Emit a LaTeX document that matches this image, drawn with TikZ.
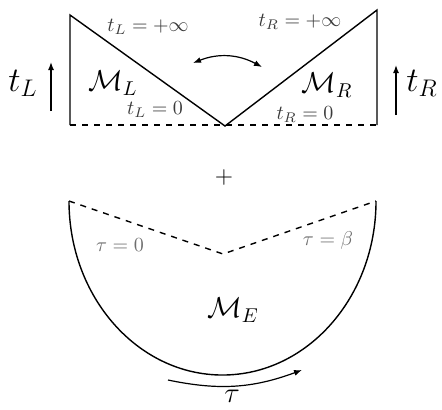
\documentclass[tikz,border=0pt]{standalone}
\usepackage{tikz}
\usetikzlibrary{arrows.meta,positioning}
\definecolor{sheetInk}{HTML}{000000}
\definecolor{tagInk}{HTML}{3A3A3A}
\definecolor{tauInk}{HTML}{6E6E6E}
\tikzset{
  every picture/.style={text=sheetInk},
  sheet edge/.style={draw=sheetInk, line width=0.7pt, line join=miter},
  cut edge/.style={draw=sheetInk, line width=0.7pt, dashed},
  time arrow/.style={-{Latex[length=4pt,width=3pt]}, draw=sheetInk, line width=0.7pt},
  swap arrow/.style={{Latex[length=4pt,width=3pt]}-{Latex[length=4pt,width=3pt]},
    draw=sheetInk, line width=0.6pt},
  edge tag/.style={text=tagInk, inner sep=1pt},
  tau tag/.style={text=tauInk, inner sep=1pt},
  sheet name/.style={font=\Large},
  time name/.style={font=\LARGE}
}
\begin{document}
\begin{tikzpicture}[x=0.5pt,y=0.5pt]
  \useasboundingbox (0,0) rectangle (442,-409);
  % Lorentzian sheets
  \coordinate (LB) at (70,-125);
  \coordinate (LT) at (70,-15);
  \coordinate (V) at (225,-126);
  \coordinate (RT) at (377,-10);
  \coordinate (RB) at (377,-125);
  \draw[sheet edge] (LB) -- (LT) -- (V) -- (RT) -- (RB);
  \draw[cut edge] (LB) -- (RB);
  \node[edge tag] (tLinf) at (148,-27) {$t_L=+\infty$};
  \node[edge tag] (tRinf) at (300,-22) {$t_R=+\infty$};
  \node[edge tag] (tLz) at (155,-110) {$t_L=0$};
  \node[edge tag] (tRz) at (305,-115) {$t_R=0$};
  \node[sheet name] (ML) at (113,-83) {$\mathcal{M}_L$};
  \node[sheet name] (MR) at (327,-85) {$\mathcal{M}_R$};
  \node[time name] (tL) at (23,-83) {$t_L$};
  \node[time name] (tR) at (422,-83) {$t_R$};
  \coordinate (tLa) at (51,-111);
  \coordinate (tLb) at (51,-62);
  \coordinate (tRa) at (396,-115);
  \coordinate (tRb) at (396,-65);
  \draw[time arrow] (tLa) -- (tLb);
  \draw[time arrow] (tRa) -- (tRb);
  \coordinate (swL) at (193,-63);
  \coordinate (swR) at (262,-67);
  \draw[swap arrow] (swL) to[bend left=25] (swR);
  \node[font=\large] (plus) at (224,-177) {$+$};
  % Euclidean sheet
  \coordinate (EL) at (69,-201);
  \coordinate (EV) at (223,-254);
  \coordinate (ER) at (376,-201);
  \draw[cut edge] (EL) -- (EV) -- (ER);
  \draw[sheet edge] (EL) arc[start angle=180, end angle=360, x radius=153.5, y radius=174];
  \node[tau tag] (tau0) at (120,-245) {$\tau=0$};
  \node[tau tag] (taub) at (328,-240) {$\tau=\beta$};
  \node[sheet name] (ME) at (233,-310) {$\mathcal{M}_E$};
  \coordinate (tauA) at (168,-380);
  \coordinate (tauB) at (302,-370);
  \draw[time arrow, line width=0.6pt] (tauA) to[bend right=16] (tauB);
  \node[sheet name, anchor=south, inner sep=0pt] (tau) at (232,-403) {$\tau$};
\end{tikzpicture}
\end{document}
